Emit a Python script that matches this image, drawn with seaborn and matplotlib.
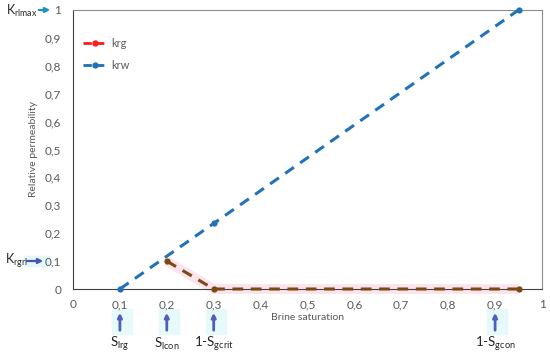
import matplotlib
matplotlib.use("Agg")
import matplotlib.pyplot as plt
import seaborn as sns
import pandas as pd
from matplotlib.lines import Line2D
from matplotlib.patches import Rectangle

# ---- data ----
sw_krw = [0.1, 0.3, 0.95]
krw = [0.0, 0.235, 1.0]
sw_krg = [0.2, 0.3, 0.95]
krg = [0.1, 0.0, 0.0]
xticks = [0, 0.1, 0.2, 0.3, 0.4, 0.5, 0.6, 0.7, 0.8, 0.9, 1]
yticks = [0, 0.1, 0.2, 0.3, 0.4, 0.5, 0.6, 0.7, 0.8, 0.9, 1]
bottom_marks = [0.1, 0.2, 0.3, 0.9]
bottom_labels = [r"S$_{\mathregular{lrg}}$", r"S$_{\mathregular{lcon}}$",
                 r"1-S$_{\mathregular{gcrit}}$", r"1-S$_{\mathregular{gcon}}$"]

sns.set_theme(style="white")
plt.rcParams['font.family'] = ['Lato', 'DejaVu Sans']
plt.rcParams['mathtext.fontset'] = 'custom'
plt.rcParams['mathtext.rm'] = 'Lato'

fig = plt.figure(figsize=(5.5, 3.59), dpi=100)

# overlay in pixel coordinates for annotations outside the plot
ov = fig.add_axes([0, 0, 1, 1], zorder=-1)
ov.set_xlim(0, 550)
ov.set_ylim(359, 0)
ov.axis("off")

ax = fig.add_axes([73/550, 1-289/359, (542-73)/550, (289-10)/359], zorder=1)
ax.patch.set_alpha(0)

gray = "#595959"
df_w = pd.DataFrame({"sw": sw_krw, "kr": krw})
df_g = pd.DataFrame({"sw": sw_krg, "kr": krg})

# pink glow under krg
ax.plot(sw_krg, krg, color="#fde3ee", lw=7, solid_capstyle="butt", zorder=1, clip_on=False)

sns.lineplot(data=df_w, x="sw", y="kr", ax=ax, color="#2272b8", lw=2.2,
             marker="o", markersize=4.5, markeredgewidth=0, zorder=3)
sns.lineplot(data=df_g, x="sw", y="kr", ax=ax, color="#7b4a12", lw=2.2,
             marker="o", markersize=4.5, markeredgewidth=0, zorder=4)
for l in ax.lines[1:]:
    l.set_linestyle((0, (3.5, 2.5)))
    l.set_clip_on(False)

ax.set_xlim(0, 1)
ax.set_ylim(0, 1)
ax.set_xticks(xticks)
ax.set_yticks(yticks)
fmt = lambda v: ("%g" % v).replace(".", ",")
ax.set_xticklabels([fmt(v) for v in xticks])
ax.set_yticklabels([fmt(v) for v in yticks])
ax.tick_params(axis="both", direction="inout", length=5, width=0.8, color="#7f7f7f",
               labelsize=8.5, labelcolor=gray, pad=6)
ax.tick_params(axis="x", pad=5)
for s in ax.spines.values():
    s.set_color("#8c8c8c")
    s.set_linewidth(0.8)
ax.spines["left"].set_color("#404040")
ax.spines["bottom"].set_color("#404040")
ax.set_xlabel("Brine saturation", fontsize=7.5, color=gray, labelpad=2)
ax.set_ylabel("Relative permeability", fontsize=7.5, color=gray, labelpad=5)

# legend
handles = [Line2D([], [], color="#ff1a1a", lw=2, ls=(0, (3, 1.5)), marker="o", markersize=3.5),
           Line2D([], [], color="#1f6fb8", lw=2, ls=(0, (3, 1.5)), marker="o", markersize=3.5)]
leg = ax.legend(handles, ["krg", "krw"], loc="upper left", bbox_to_anchor=(0.0, 0.935),
                frameon=False, fontsize=8, handlelength=2.2, handletextpad=0.3,
                labelspacing=1.0)
for t in leg.get_texts():
    t.set_color(gray)

# left annotations
ov.text(6, 11, r"K$_{\mathregular{rlmax}}$", fontsize=9, va="center", ha="left")
ov.annotate("", xy=(53, 10), xytext=(36, 10),
            arrowprops=dict(arrowstyle="-|>", color="#1f93c0", lw=1.6, mutation_scale=7))
ov.text(5, 261, r"K$_{\mathregular{rgrl}}$", fontsize=9, va="center", ha="left")
ov.add_patch(Rectangle((24, 256), 25, 10, color="#e3f7fb", zorder=0))
ov.annotate("", xy=(46, 261), xytext=(24, 261),
            arrowprops=dict(arrowstyle="-|>", color="#4654b4", lw=1.6, mutation_scale=7))

# bottom annotations
for xv, lab in zip(bottom_marks, bottom_labels):
    px = 73 + xv * (542 - 73)
    ov.add_patch(Rectangle((px - 8, 309), 20, 25, color="#e6f9fb", zorder=0))
    ov.annotate("", xy=(px, 310), xytext=(px, 333),
                arrowprops=dict(arrowstyle="-|>", color="#5060b8", lw=2, mutation_scale=6))
    ov.text(px, 344, lab, fontsize=9.5, ha="center", va="center")

fig.savefig("out.png", dpi=100)
